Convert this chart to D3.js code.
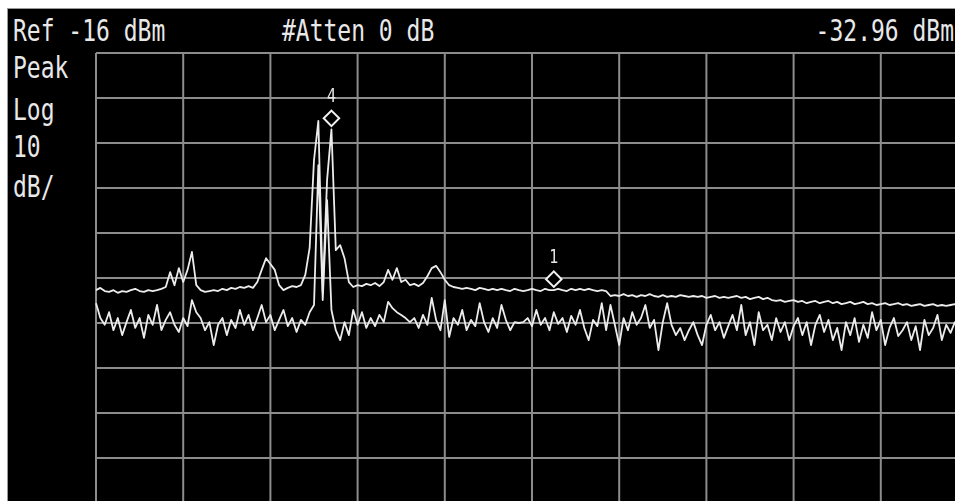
<!DOCTYPE html>
<html>
<head>
<meta charset="utf-8">
<script src="https://cdn.jsdelivr.net/npm/d3@7"></script>
<style>
  html, body { margin: 0; padding: 0; background: #fff; }
  svg { display: block; }
</style>
</head>
<body>
<div id="chart"></div>
<script>
'use strict';

// analyzer settings
var refLevel = -16;      // dBm, top graticule line
var dbPerDiv = 10;
var divisions = d3.range(0, 11);   // 10 x 10 graticule
var headerTexts = ['Ref -16 dBm', '#Atten 0 dB', '-32.96 dBm'];
var sideTexts = ['Peak', 'Log', '10', 'dB/'];

// sweep points, evenly spaced over the 10 horizontal divisions (dBm)
var upperTrace = [
  -68.7, -68.2, -68.9, -69.1, -68.7, -69.3, -68.9, -69.1, -68.7, -68.4,
  -68.9, -69.1, -68.7, -68.9, -68.7, -68.4, -68.0, -64.7, -67.6, -63.8,
  -66.9, -64.2, -60.2, -67.6, -68.7, -69.1, -68.9, -68.7, -68.9, -68.4,
  -68.7, -68.2, -68.4, -68.0, -68.2, -67.8, -68.2, -66.9, -64.2, -61.6,
  -62.9, -64.2, -67.6, -68.7, -68.2, -67.8, -68.0, -67.6, -65.3, -59.3,
  -39.8, -31.1, -69.1, -44.2, -32.96, -59.8, -58.7, -61.6, -66.9, -68.0,
  -67.6, -67.8, -67.3, -67.6, -67.1, -67.8, -66.9, -64.2, -66.4, -63.8,
  -66.9, -66.4, -67.6, -67.3, -67.8, -67.1, -65.6, -63.8, -63.3, -64.7,
  -66.4, -67.6, -68.0, -68.2, -68.4, -68.2, -68.4, -68.7, -68.2, -68.4,
  -68.7, -68.4, -68.7, -68.4, -68.7, -68.9, -68.4, -68.7, -68.9, -68.7,
  -68.4, -68.7, -68.9, -68.4, -68.7, -68.7, -68.4, -68.7, -68.9, -68.4,
  -68.7, -68.4, -68.7, -68.4, -68.7, -68.9, -68.7, -68.9, -70.0, -69.8,
  -70.0, -69.6, -70.0, -69.8, -70.2, -69.8, -70.0, -69.6, -70.0, -70.2,
  -69.8, -70.2, -70.0, -70.2, -69.8, -70.0, -70.2, -70.0, -70.2, -70.0,
  -70.4, -70.2, -70.0, -70.4, -70.2, -70.4, -70.2, -70.0, -70.4, -70.2,
  -70.7, -70.4, -70.2, -70.7, -70.4, -70.9, -71.1, -70.9, -71.3, -71.1,
  -70.9, -71.3, -71.1, -71.6, -71.3, -71.1, -71.6, -71.3, -71.1, -71.6,
  -71.3, -71.8, -71.6, -71.3, -71.8, -71.6, -71.3, -71.8, -71.6, -72.0,
  -71.8, -71.6, -72.0, -71.8, -71.6, -72.0, -71.8, -72.2, -72.0, -71.8,
  -72.2, -72.0, -71.8, -72.2, -72.0, -72.2, -72.0, -71.8, -72.2, -72.0,
  -72.2
];

var lowerTrace = [
  -71.6, -74.9, -76.4, -73.6, -77.6, -74.9, -78.7, -75.8, -73.1, -77.1,
  -74.9, -79.3, -74.2, -76.4, -72.0, -77.6, -75.3, -73.6, -76.4, -78.0,
  -74.9, -76.7, -70.9, -73.6, -74.9, -77.6, -75.8, -80.9, -76.4, -74.9,
  -78.7, -75.3, -77.1, -73.1, -76.4, -74.2, -77.6, -74.9, -72.0, -75.8,
  -74.2, -77.6, -75.3, -73.1, -76.7, -74.9, -78.0, -75.3, -76.4, -73.6,
  -72.0, -40.9, -70.9, -48.7, -73.1, -77.6, -79.8, -75.8, -78.7, -73.1,
  -76.4, -73.6, -77.1, -74.9, -76.7, -74.2, -75.8, -71.3, -72.7, -73.6,
  -74.2, -74.9, -75.8, -74.9, -77.1, -74.2, -76.4, -70.4, -75.3, -77.6,
  -70.9, -79.1, -74.9, -76.4, -73.1, -77.6, -75.3, -76.7, -71.6, -75.8,
  -78.0, -74.9, -77.1, -72.0, -75.3, -77.6, -75.8, -76.0, -75.8, -74.9,
  -76.7, -73.1, -76.4, -74.9, -77.6, -73.6, -76.2, -74.9, -78.0, -74.4,
  -76.4, -73.1, -77.1, -79.8, -75.3, -76.7, -71.6, -77.6, -72.0, -76.4,
  -80.9, -74.9, -77.6, -73.6, -76.4, -74.9, -72.0, -77.1, -75.3, -82.0,
  -75.8, -71.6, -76.4, -78.7, -77.1, -79.8, -77.6, -75.8, -78.7, -80.9,
  -76.4, -74.2, -77.6, -75.8, -79.3, -76.7, -74.2, -77.6, -72.0, -78.7,
  -75.8, -80.9, -73.6, -77.6, -76.4, -79.8, -74.9, -78.0, -75.8, -79.8,
  -76.7, -74.9, -78.7, -75.8, -80.9, -76.4, -74.2, -78.0, -75.3, -79.8,
  -77.1, -82.0, -75.8, -78.7, -74.9, -80.2, -76.4, -79.3, -73.6, -77.6,
  -75.3, -80.9, -77.1, -74.9, -78.9, -77.6, -75.8, -79.8, -76.7, -82.0,
  -75.3, -78.7, -77.1, -74.2, -79.8, -76.4, -78.2, -75.8, -77.6, -76.4,
  -77.1
];

// markers: sweep point index on the upper trace
var markerLabels = ['4', '1'];
var markerPoints = [54, 105];

(function () {
  var W = 955, H = 501;
  var plot = { left: 96, top: 53, width: 872, height: 450 };

  var svg = d3.select('#chart').append('svg')
    .attr('width', W)
    .attr('height', H)
    .attr('viewBox', [0, 0, W, H]);

  var defs = svg.append('defs');
  defs.append('filter').attr('id', 'soft')
    .append('feGaussianBlur').attr('stdDeviation', 0.45);

  // screen background
  svg.append('rect')
    .attr('x', 7.5).attr('y', 8.5)
    .attr('width', W).attr('height', H)
    .attr('fill', '#000')
    .attr('stroke', '#9a9a9a')
    .attr('stroke-width', 1);

  var x = d3.scaleLinear().domain([0, 10]).range([plot.left, plot.left + plot.width]);
  var y = d3.scaleLinear()
    .domain([refLevel, refLevel - 10 * dbPerDiv])
    .range([plot.top, plot.top + plot.height]);
  var pt = d3.scaleLinear().domain([0, upperTrace.length - 1]).range([0, 10]);

  // graticule
  var grid = svg.append('g').attr('filter', 'url(#soft)')
    .attr('stroke', '#8c8c8c').attr('stroke-width', 2);
  grid.selectAll('line.v')
    .data(divisions)
    .join('line')
    .attr('class', 'v')
    .attr('x1', function (d) { return x(d); })
    .attr('x2', function (d) { return x(d); })
    .attr('y1', y(refLevel))
    .attr('y2', y(refLevel - 10 * dbPerDiv));
  grid.selectAll('line.h')
    .data(divisions)
    .join('line')
    .attr('class', 'h')
    .attr('x1', x(0))
    .attr('x2', x(10))
    .attr('y1', function (d) { return y(refLevel - d * dbPerDiv); })
    .attr('y2', function (d) { return y(refLevel - d * dbPerDiv); });

  // traces
  var line = d3.line()
    .x(function (d, i) { return x(pt(i)); })
    .y(function (d) { return y(d); });

  var traces = svg.append('g').attr('filter', 'url(#soft)');
  traces.selectAll('path')
    .data([lowerTrace, upperTrace])
    .join('path')
    .attr('d', line)
    .attr('fill', 'none')
    .attr('stroke', '#ececec')
    .attr('stroke-width', 1.8)
    .attr('stroke-linejoin', 'round');

  // markers
  var mk = traces.selectAll('g.marker')
    .data(markerPoints)
    .join('g')
    .attr('class', 'marker')
    .attr('transform', function (d) {
      return 'translate(' + x(pt(d)) + ',' + (y(upperTrace[d]) - 11) + ')';
    });
  mk.append('path')
    .attr('d', d3.symbol(d3.symbolSquare, 120))
    .attr('transform', 'rotate(45)')
    .attr('fill', '#000')
    .attr('stroke', '#f2f2f2')
    .attr('stroke-width', 2);
  mk.append('text')
    .text(function (d, i) { return markerLabels[i]; })
    .attr('transform', 'translate(0,-16) scale(1,1.3)')
    .attr('text-anchor', 'middle')
    .attr('font-family', 'DejaVu Sans Mono, monospace')
    .attr('font-size', 15)
    .attr('fill', '#e6e6e6');

  // annotation text, tall narrow analyzer font
  var font = 'DejaVu Sans Mono, monospace';
  var header = [
    { t: headerTexts[0], x: 13, anchor: 'start' },
    { t: headerTexts[1], x: 282, anchor: 'start' },
    { t: headerTexts[2], x: 954, anchor: 'end' }
  ];
  svg.append('g').selectAll('text')
    .data(header)
    .join('text')
    .attr('transform', function (d) { return 'translate(' + d.x + ',41) scale(1,1.3)'; })
    .attr('text-anchor', function (d) { return d.anchor; })
    .attr('font-family', font)
    .attr('font-size', 23)
    .attr('fill', '#e8e8e8')
    .text(function (d) { return d.t; });

  var sideBase = [78, 120, 157, 197];
  svg.append('g').selectAll('text')
    .data(sideTexts)
    .join('text')
    .attr('transform', function (d, i) { return 'translate(13,' + sideBase[i] + ') scale(1,1.3)'; })
    .attr('font-family', font)
    .attr('font-size', 23)
    .attr('fill', '#e8e8e8')
    .text(function (d) { return d; });
})();
</script>
</body>
</html>
